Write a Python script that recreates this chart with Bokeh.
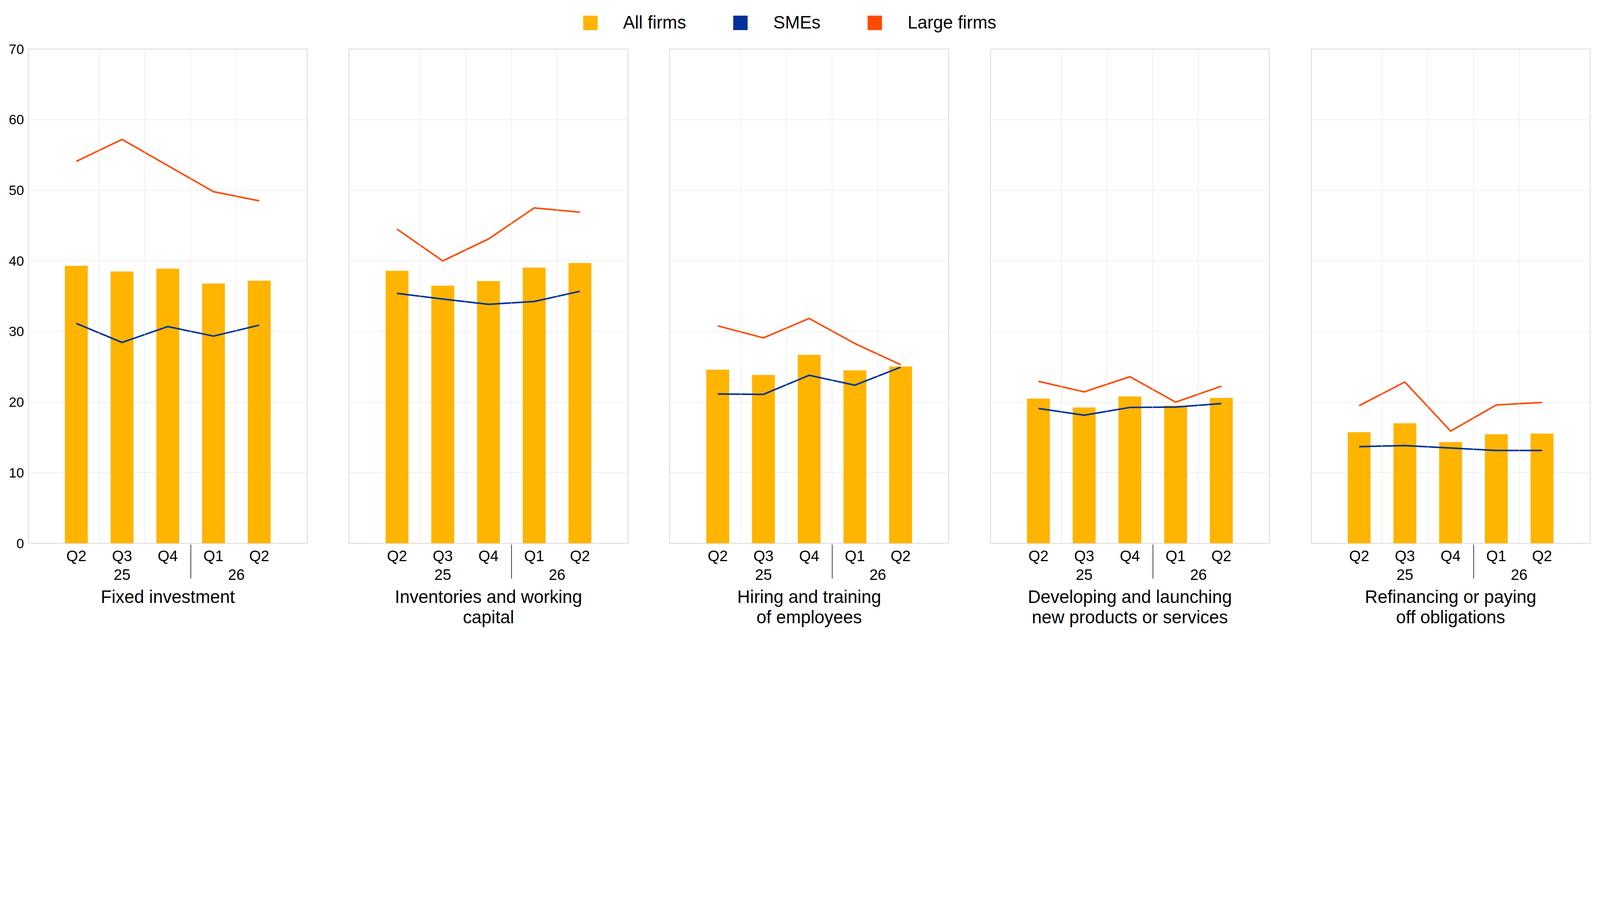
from bokeh.plotting import figure
from bokeh.layouts import column, row
from bokeh.models import (FactorRange, Range1d, FixedTicker, Span, Legend,
                          LegendItem, ColumnDataSource)
from bokeh.embed import file_html
from bokeh.resources import INLINE

FONT = "Liberation Sans"
C_ALL = "#FFB400"
C_SME = "#003299"
C_LARGE = "#FF4B00"
GRID = "#e2e2e2"

# ---- data ----
years = ["25", "25", "25", "26", "26"]
quarters = ["Q2", "Q3", "Q4", "Q1", "Q2"]
y_ticks = [0, 10, 20, 30, 40, 50, 60, 70]
series_names = ["All firms", "SMEs", "Large firms"]

panel_titles = [
    "Fixed investment",
    "Inventories and working\ncapital",
    "Hiring and training\nof employees",
    "Developing and launching\nnew products or services",
    "Refinancing or paying\noff obligations",
]

all_fixed = [39.3, 38.5, 38.9, 36.8, 37.2]
sme_fixed = [31.15, 28.45, 30.7, 29.35, 30.9]
large_fixed = [54.1, 57.2, 53.5, 49.8, 48.5]

all_invent = [38.6, 36.5, 37.15, 39.05, 39.7]
sme_invent = [35.4, 34.6, 33.85, 34.25, 35.7]
large_invent = [44.5, 40.0, 43.1, 47.5, 46.9]

all_hiring = [24.6, 23.85, 26.7, 24.5, 25.05]
sme_hiring = [21.15, 21.1, 23.8, 22.4, 24.95]
large_hiring = [30.8, 29.1, 31.85, 28.3, 25.3]

all_develop = [20.5, 19.25, 20.8, 19.5, 20.6]
sme_develop = [19.1, 18.15, 19.25, 19.3, 19.8]
large_develop = [22.95, 21.45, 23.6, 20.0, 22.25]

all_refin = [15.75, 17.0, 14.35, 15.45, 15.55]
sme_refin = [13.7, 13.85, 13.5, 13.15, 13.15]
large_refin = [19.5, 22.85, 15.9, 19.6, 19.95]

panels = [
    (all_fixed, sme_fixed, large_fixed),
    (all_invent, sme_invent, large_invent),
    (all_hiring, sme_hiring, large_hiring),
    (all_develop, sme_develop, large_develop),
    (all_refin, sme_refin, large_refin),
]

factors = list(zip(years, quarters))

FRAME_W = 714
FRAME_H = 1265
TOP = 25
LEG_H = 100
borders = [(72, 53), (54, 53), (54, 53), (54, 53), (54, 4)]

figs = []
for i, (all_v, sme_v, large_v) in enumerate(panels):
    left, right = borders[i]
    xr = FactorRange(factors=factors, group_padding=0, range_padding=0.55,
                     range_padding_units="absolute")
    p = figure(x_range=xr, y_range=Range1d(0, 70), frame_width=FRAME_W,
               frame_height=FRAME_H, min_border_left=left, min_border_right=right,
               min_border_top=TOP, min_border_bottom=40,
               toolbar_location=None, output_backend="svg")
    src = ColumnDataSource(dict(x=factors, all=all_v, sme=sme_v, large=large_v))
    p.vbar(x="x", top="all", width=0.5, source=src, color=C_ALL, line_color=None)
    p.line(x="x", y="sme", source=src, color=C_SME, line_width=4)
    p.line(x="x", y="large", source=src, color=C_LARGE, line_width=4)

    p.outline_line_color = "#d9d9d9"
    p.outline_line_width = 2
    p.xgrid.visible = False
    ticker = FixedTicker(ticks=y_ticks)
    p.yaxis.ticker = ticker
    p.ygrid.ticker = ticker
    p.ygrid.grid_line_color = GRID
    p.ygrid.grid_line_width = 1
    for k in range(1, len(factors)):
        p.add_layout(Span(location=k, dimension="height",
                          line_color=GRID, line_width=1))

    if i == 0:
        p.yaxis.axis_line_color = None
        p.yaxis.major_tick_line_color = None
        p.yaxis.minor_tick_line_color = None
        p.yaxis.major_tick_out = 0
        p.yaxis.major_tick_in = 0
        p.yaxis.minor_tick_out = 0
        p.yaxis.major_label_text_font = FONT
        p.yaxis.major_label_text_font_size = "35px"
        p.yaxis.major_label_text_color = "black"
        p.yaxis.major_label_standoff = 11
    else:
        p.yaxis.visible = False

    ax = p.xaxis[0]
    ax.axis_line_color = None
    ax.major_tick_line_color = None
    ax.minor_tick_line_color = None
    ax.major_tick_out = 0
    ax.major_tick_in = 0
    ax.minor_tick_out = 0
    ax.major_label_text_font = FONT
    ax.major_label_text_font_size = "38.5px"
    ax.major_label_text_color = "black"
    ax.major_label_standoff = 10
    ax.group_text_font = FONT
    ax.group_text_font_size = "38.5px"
    ax.group_text_font_style = "normal"
    ax.group_text_color = "black"
    ax.separator_line_color = "black"
    ax.separator_line_width = 1.5
    ax.axis_label = panel_titles[i]
    ax.axis_label_text_font = FONT
    ax.axis_label_text_font_size = "45.4px"
    ax.axis_label_text_font_style = "normal"
    ax.axis_label_text_color = "black"
    ax.axis_label_text_line_height = 1.03
    ax.axis_label_standoff = 15
    figs.append(p)

total_w = sum(l + FRAME_W + r for l, r in borders)
leg = figure(width=total_w, height=LEG_H, x_range=Range1d(0, 1), y_range=Range1d(0, 1),
             x_axis_type=None, y_axis_type=None, min_border=0,
             outline_line_color=None, toolbar_location=None, output_backend="svg")
colors = [C_ALL, C_SME, C_LARGE]
items = []
for name, c in zip(series_names, colors):
    # legend-only swatch renderer (hidden; the legend shows its colour)
    r = leg.vbar(x=[0], top=[0], width=0.1, color=c, line_color=None, visible=False)
    items.append(LegendItem(label=name, renderers=[r]))
legend = Legend(items=items, orientation="horizontal", location=(1488, 16),
                glyph_width=46, glyph_height=46, label_standoff=61, spacing=116,
                padding=0, margin=0, border_line_color=None,
                background_fill_alpha=0, inactive_fill_alpha=0,
                label_text_font=FONT, label_text_font_size="45.4px",
                label_text_color="black")
leg.add_layout(legend)

layout = column(leg, row(*figs, spacing=0), spacing=0)
open("out.html", "w").write(file_html(layout, INLINE))
